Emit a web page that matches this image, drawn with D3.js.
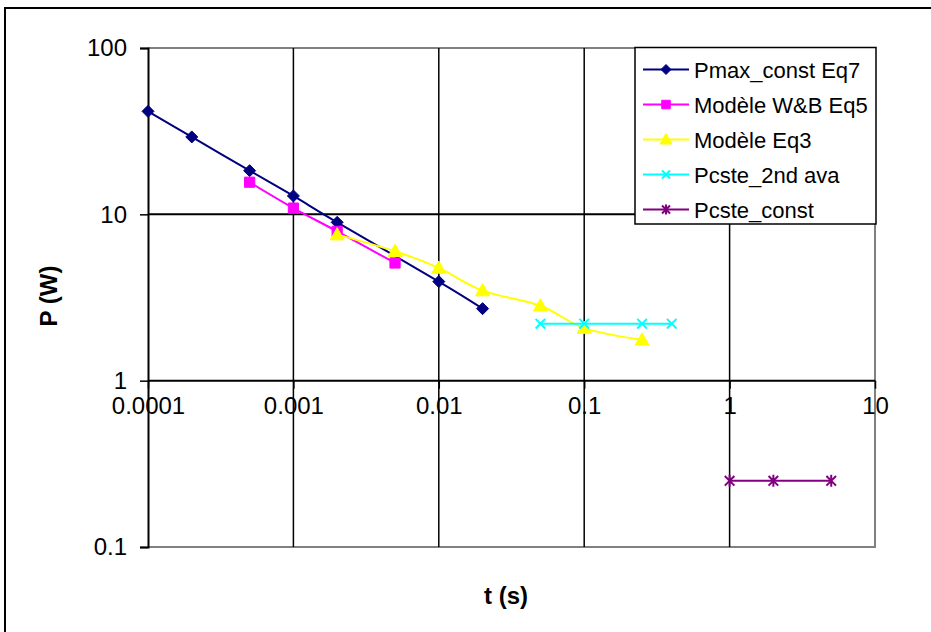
<!DOCTYPE html>
<html><head><meta charset="utf-8">
<script src="https://cdn.jsdelivr.net/npm/d3@7"></script>
<style>body{margin:0;background:#fff}svg{display:block}text{font-family:Arial,"Liberation Sans",sans-serif}</style>
</head><body><svg id="c" width="931" height="632"></svg>
<script>
const xTicks = [0.0001, 0.001, 0.01, 0.1, 1, 10];
const xTickLabels = ["0.0001", "0.001", "0.01", "0.1", "1", "10"];
const yTicks = [0.1, 1, 10, 100];
const yTickLabels = ["0.1", "1", "10", "100"];

const seriesNames = ["Pmax_const Eq7", "Modèle W&B Eq5", "Modèle Eq3", "Pcste_2nd ava", "Pcste_const"];
const seriesColors = ["#000080", "#FF00FF", "#FFFF00", "#00FFFF", "#800080"];
const seriesMarkers = ["diamond", "square", "triangle", "x", "star"];

const pmaxT = [0.0001, 0.0002, 0.0005, 0.001, 0.002, 0.01, 0.02];
const pmaxP = [41.6, 29.2, 18.3, 12.9, 8.95, 3.94, 2.71];
const wbT = [0.0005, 0.001, 0.002, 0.005];
const wbP = [15.6, 10.9, 7.9, 5.1];
const eq3T = [0.002, 0.005, 0.01, 0.02, 0.05, 0.1, 0.25];
const eq3P = [7.55, 6.0, 4.76, 3.48, 2.82, 2.07, 1.76];
const ava2T = [0.05, 0.1, 0.25, 0.4];
const ava2P = [2.2, 2.2, 2.2, 2.2];
const constT = [1, 2, 5];
const constP = [0.25, 0.25, 0.25];

const seriesT = [pmaxT, wbT, eq3T, ava2T, constT];
const seriesP = [pmaxP, wbP, eq3P, ava2P, constP];

const svg = d3.select("#c");
svg.append("rect").attr("width", 931).attr("height", 632).attr("fill", "#fff");

const L = 148, R = 875, T = 48, B = 547;
const x = d3.scaleLog().domain([0.0001, 10]).range([L, R]);
const y = d3.scaleLog().domain([0.1, 100]).range([B, T]);

// outer frame
svg.append("path").attr("d", `M5,640 L5,8 L940,8`).attr("fill", "none").attr("stroke", "#000").attr("stroke-width", 2);

// plot border (gray) top, right, bottom
svg.append("path").attr("d", `M${L},${T} L${R},${T} L${R},${B} L${L},${B}`)
  .attr("fill", "none").attr("stroke", "#808080").attr("stroke-width", 2);

// vertical gridlines
const g = svg.append("g");
g.selectAll(".vg").data(xTicks.slice(1, -1)).enter().append("line")
  .attr("x1", d => x(d)).attr("x2", d => x(d)).attr("y1", T).attr("y2", B)
  .attr("stroke", "#000").attr("stroke-width", 1.5);
// horizontal gridlines (10, 1)
g.selectAll(".hg").data([1, 10]).enter().append("line")
  .attr("x1", L).attr("x2", R).attr("y1", d => y(d)).attr("y2", d => y(d))
  .attr("stroke", "#000").attr("stroke-width", 2);

// y axis
const yAxis = d3.axisLeft(y).tickValues(yTicks).tickFormat((d, i) => yTickLabels[i]).tickSizeOuter(0).tickSize(8).tickPadding(13);
const ya = svg.append("g").attr("transform", `translate(${L},0)`).call(yAxis);
ya.select(".domain").attr("stroke", "#000").attr("stroke-width", 2);
ya.selectAll(".tick line").attr("stroke", "#000").attr("stroke-width", 1.5);
ya.selectAll(".tick text").attr("font-size", 24).attr("fill", "#000").attr("font-family", "Arial, 'Liberation Sans', sans-serif");

// x axis at y = 1
const xAxis = d3.axisBottom(x).tickValues(xTicks).tickFormat((d, i) => xTickLabels[i]).tickSizeOuter(0).tickSize(8).tickPadding(8);
const xa = svg.append("g").attr("transform", `translate(0,${y(1)})`).call(xAxis);
xa.select(".domain").remove();
xa.selectAll(".tick line").attr("stroke", "#000").attr("stroke-width", 1.5);
xa.selectAll(".tick text").attr("font-size", 24).attr("fill", "#000").attr("font-family", "Arial, 'Liberation Sans', sans-serif");

// axis titles
svg.append("text").attr("transform", "translate(57,296) rotate(-90)").attr("text-anchor", "middle")
  .attr("font-size", 24).attr("font-weight", "bold").text("P (W)");
svg.append("text").attr("x", 506).attr("y", 604).attr("text-anchor", "middle")
  .attr("font-size", 24).attr("font-weight", "bold").text("t (s)");

function markerPath(type, s) {
  switch (type) {
    case "diamond": return `M0,${-s}L${s},0L0,${s}L${-s},0Z`;
    case "square": { const h = s * 0.85; return `M${-h},${-h}H${h}V${h}H${-h}Z`; }
    case "triangle": return `M0,${-s}L${s},${s * 0.75}L${-s},${s * 0.75}Z`;
    case "x": { const h = s * 0.8; return `M${-h},${-h}L${h},${h}M${-h},${h}L${h},${-h}`; }
    case "star": { const h = s * 0.8; return `M${-h},${-h}L${h},${h}M${-h},${h}L${h},${-h}M0,${-s}V${s}`; }
  }
}
function drawMarker(sel, type, color, s) {
  const filled = type === "diamond" || type === "square" || type === "triangle";
  sel.attr("d", markerPath(type, s))
    .attr("fill", filled ? color : "none")
    .attr("stroke", color).attr("stroke-width", filled ? 1 : 2);
}

const line = d3.line().x(d => x(d[0])).y(d => y(d[1])).curve(d3.curveCardinal.tension(0));

seriesNames.forEach((name, i) => {
  const pts = seriesT[i].map((t, j) => [t, seriesP[i][j]]);
  svg.append("path").datum(pts).attr("d", line).attr("fill", "none")
    .attr("stroke", seriesColors[i]).attr("stroke-width", 2);
  svg.selectAll(null).data(pts).enter().append("path")
    .attr("transform", d => `translate(${x(d[0])},${y(d[1])})`)
    .call(sel => drawMarker(sel, seriesMarkers[i], seriesColors[i], seriesMarkers[i] === "triangle" ? 7 : 6));
});

// legend
const lg = svg.append("g");
lg.append("rect").attr("x", 635).attr("y", 47.5).attr("width", 241).attr("height", 176.5)
  .attr("fill", "#fff").attr("stroke", "#000").attr("stroke-width", 1.5);
seriesNames.forEach((name, i) => {
  const yy = 69.5 + i * 35;
  lg.append("line").attr("x1", 643).attr("x2", 689).attr("y1", yy).attr("y2", yy)
    .attr("stroke", seriesColors[i]).attr("stroke-width", 2);
  lg.append("path").attr("transform", `translate(666,${yy})`)
    .call(sel => drawMarker(sel, seriesMarkers[i], seriesColors[i], seriesMarkers[i] === "triangle" ? 6 : 5));
  lg.append("text").attr("x", 694).attr("y", yy + 8).attr("font-size", 22).attr("fill", "#000").text(name);
});
</script></body></html>
